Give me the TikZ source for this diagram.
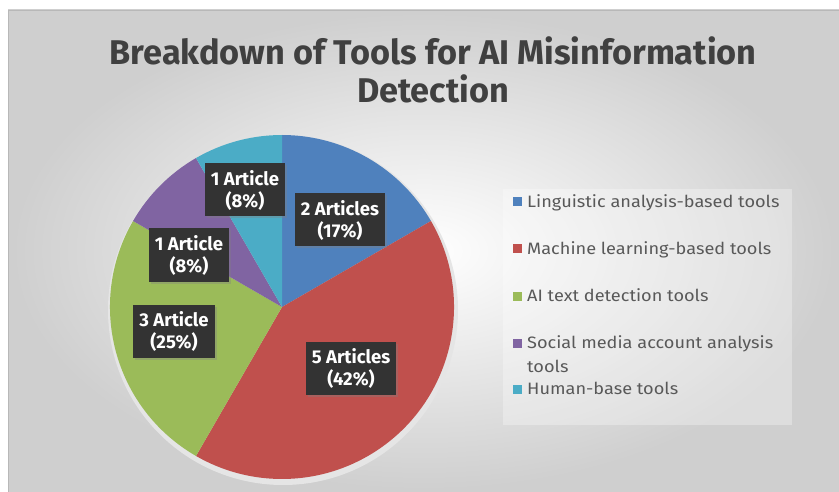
\documentclass[tikz,border=0pt]{standalone}
\usepackage{fontspec}
\setmainfont{Fira Sans}
\newfontfamily\legendfont{Fira Sans}[FakeStretch=1.1]
\usetikzlibrary{positioning,shadows}

\definecolor{lingblue}{HTML}{4F81BD}
\definecolor{mlred}{HTML}{C0504D}
\definecolor{aigreen}{HTML}{9BBB59}
\definecolor{socpurple}{HTML}{8064A2}
\definecolor{humcyan}{HTML}{4BACC6}
\definecolor{titlegray}{HTML}{404040}
\definecolor{boxgray}{HTML}{333333}
\definecolor{leggray}{HTML}{595959}

\tikzset{
  pct/.style={fill=boxgray, text=white, align=center,
    font=\bfseries\fontsize{18.5}{22}\selectfont,
    inner xsep=6pt, minimum height=53pt,
    drop shadow={opacity=0.35, shadow xshift=2pt, shadow yshift=-2pt}},
  legsq/.style={fill=#1, minimum size=9pt, inner sep=0pt},
  legtxt/.style={text=leggray, font=\legendfont\fontsize{16.5}{24}\selectfont,
    align=left, inner sep=0pt, anchor=north west},
  headline/.style={text=titlegray, font=\bfseries\fontsize{34.3}{38}\selectfont,
    anchor=base}
}

\begin{document}
\begin{tikzpicture}[x=1pt,y=-1pt]
  \useasboundingbox (0,0) rectangle (839,492);
  % chart area
  \shade[inner color=white, outer color=black!19] (8,10) rectangle (839,492);
  \draw[black!28] (8,492) -- (8,10) -- (839,10);
  % title
  \node[headline] (title) at (433,65) {Breakdown of Tools for AI Misinformation};
  \node[headline] (title2) at (433,103) {Detection};
  % pie, 12 articles
  \begin{scope}[shift={(282,307)}, y=1pt]
    \fill[black!10] (1,-3) circle[radius=175];
    \foreach \a/\b/\col in {90/30/lingblue, 30/-120/mlred, -120/-210/aigreen,
                            150/120/socpurple, 120/90/humcyan}
      \fill[\col] (0,0) -- (\a:172) arc[start angle=\a, end angle=\b, radius=172] -- cycle;
  \end{scope}
  % data labels
  \node[pct] (hum) at (245,190) {1 Article\\(8\%)};
  \node[pct] (ling) at (340,220) {2 Articles\\(17\%)};
  \node[pct] (soc) at (189,255) {1 Article\\(8\%)};
  \node[pct] (ai) at (174,331) {3 Article\\(25\%)};
  \node[pct] (ml) at (351,368) {5 Articles\\(42\%)};
  % legend
  \fill[white, opacity=0.3] (503,189) rectangle (792,425);
  \foreach \i/\col/\yy/\txt in {1/lingblue/202/Linguistic analysis-based tools,
      2/mlred/249/Machine learning-based tools,
      3/aigreen/296/AI text detection tools,
      4/socpurple/343/{Social media account analysis\\tools},
      5/humcyan/389/Human-base tools} {
    \node[legsq=\col] (sq\i) at (517,\yy) {};
    \node[legtxt] (leg\i) at (527,\yy+5.5-16.8) {\strut\txt};
  }
\end{tikzpicture}
\end{document}
